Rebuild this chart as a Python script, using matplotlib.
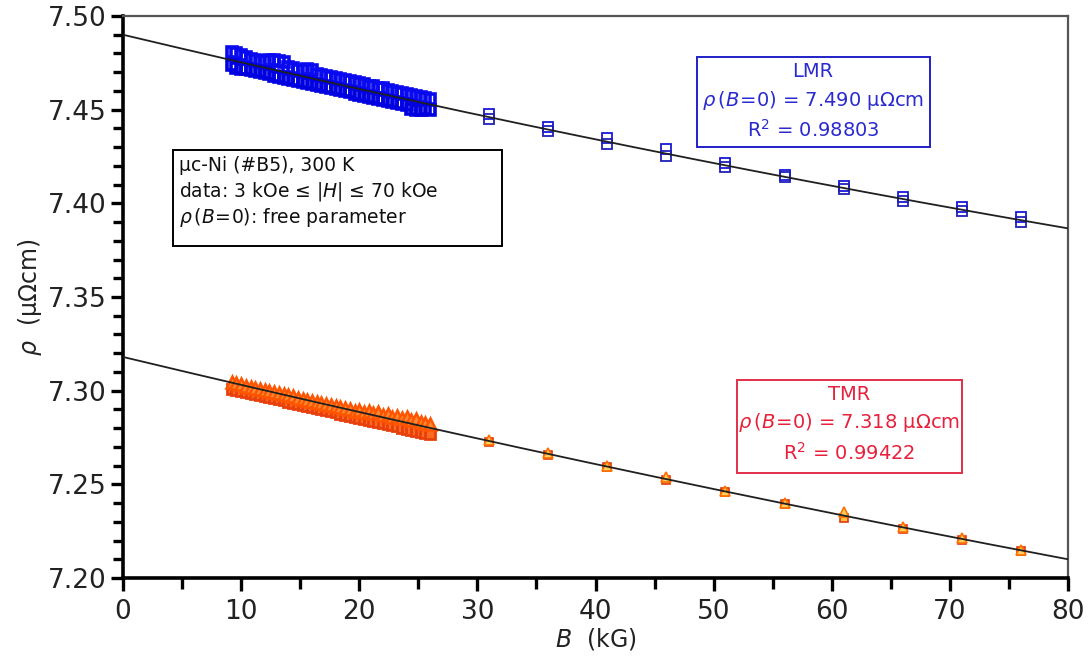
import numpy as np
import matplotlib
matplotlib.use("Agg")
import matplotlib.pyplot as plt
from matplotlib.patches import Rectangle
from matplotlib.ticker import MultipleLocator

plt.rcParams['font.family'] = ['DejaVu Sans']
plt.rcParams['mathtext.fontset'] = 'dejavusans'

# ---------------- data ----------------
B_low = [9.2, 9.6, 10.0, 10.4, 10.8, 11.2, 11.6, 12.0, 12.4, 12.8, 13.2, 13.6, 14.0,
         14.4, 14.8, 15.2, 15.6, 16.0, 16.4, 16.8, 17.2, 17.6, 18.0, 18.4, 18.8, 19.2,
         19.6, 20.0, 20.4, 20.8, 21.2, 21.6, 22.0, 22.4, 22.8, 23.2, 23.6, 24.0, 24.4,
         24.8, 25.2, 25.6, 26.0]

lmr_low_pos = [7.4808, 7.4800, 7.4790, 7.4780, 7.4773, 7.4767, 7.4762, 7.4758, 7.4765,
               7.4765, 7.4760, 7.4752, 7.4727, 7.4720, 7.4714, 7.4710, 7.4718, 7.4712,
               7.4692, 7.4686, 7.4680, 7.4674, 7.4669, 7.4663, 7.4657, 7.4652, 7.4646,
               7.4640, 7.4635, 7.4629, 7.4624, 7.4618, 7.4613, 7.4607, 7.4602, 7.4596,
               7.4591, 7.4585, 7.4580, 7.4574, 7.4569, 7.4563, 7.4558]
lmr_low_neg = [7.4738, 7.4720, 7.4715, 7.4717, 7.4711, 7.4705, 7.4700, 7.4694, 7.4688,
               7.4682, 7.4677, 7.4671, 7.4665, 7.4659, 7.4654, 7.4648, 7.4642, 7.4637,
               7.4631, 7.4625, 7.4620, 7.4614, 7.4608, 7.4603, 7.4597, 7.4592, 7.4586,
               7.4580, 7.4575, 7.4569, 7.4564, 7.4558, 7.4553, 7.4547, 7.4542, 7.4536,
               7.4531, 7.4525, 7.4505, 7.4496, 7.4500, 7.4503, 7.4498]

tmr_low_pos = [7.3045, 7.3040, 7.3033, 7.3027, 7.3022, 7.3016, 7.3010, 7.3004, 7.2998,
               7.2993, 7.2987, 7.2981, 7.2975, 7.2969, 7.2963, 7.2957, 7.2951, 7.2946,
               7.2940, 7.2934, 7.2928, 7.2922, 7.2917, 7.2911, 7.2905, 7.2900, 7.2894,
               7.2898, 7.2888, 7.2892, 7.2880, 7.2884, 7.2872, 7.2876, 7.2862, 7.2866,
               7.2854, 7.2858, 7.2845, 7.2848, 7.2834, 7.2830, 7.2824]
tmr_low_neg = [7.3010, 7.3005, 7.3000, 7.2994, 7.2988, 7.2982, 7.2977, 7.2971, 7.2965,
               7.2959, 7.2953, 7.2948, 7.2942, 7.2936, 7.2930, 7.2924, 7.2918, 7.2913,
               7.2907, 7.2901, 7.2895, 7.2889, 7.2884, 7.2878, 7.2872, 7.2866, 7.2860,
               7.2855, 7.2849, 7.2843, 7.2838, 7.2832, 7.2826, 7.2820, 7.2815, 7.2809,
               7.2803, 7.2797, 7.2792, 7.2786, 7.2780, 7.2775, 7.2769]

B_high = [31, 36, 41, 46, 51, 56, 61, 66, 71, 76]
lmr_high_pos = [7.4475, 7.4410, 7.4350, 7.4290, 7.4215, 7.4150, 7.4095, 7.4035, 7.3978, 7.3925]
lmr_high_neg = [7.4450, 7.4385, 7.4315, 7.4255, 7.4195, 7.4138, 7.4075, 7.4015, 7.3960, 7.3900]
tmr_high_pos = [7.2738, 7.2668, 7.2598, 7.2540, 7.2465, 7.2402, 7.2352, 7.2272, 7.2212, 7.2150]
tmr_high_neg = [7.2728, 7.2656, 7.2590, 7.2522, 7.2458, 7.2394, 7.2318, 7.2264, 7.2203, 7.2143]

# fit curves: rho(B) = rho0 - a*B + b*B^2
lmr_rho0, lmr_a, lmr_b = 7.490, 0.00150, 2.6e-6
tmr_rho0, tmr_a, tmr_b = 7.318, 0.00151, 2.0e-6

x_ticks = [0, 10, 20, 30, 40, 50, 60, 70, 80]
y_ticks = [7.20, 7.25, 7.30, 7.35, 7.40, 7.45, 7.50]

# ---------------- figure ----------------
W, H = 1090, 664
fig = plt.figure(figsize=(W / 100, H / 100), dpi=100)
AX_L, AX_R, AX_T, AX_B = 123, 1068, 16, 578
ax = fig.add_axes([AX_L / W, 1 - AX_B / H, (AX_R - AX_L) / W, (AX_B - AX_T) / H])
ax.set_xlim(0, 80)
ax.set_ylim(7.20, 7.50)

blue = '#0a0af0'
sq = dict(marker='s', ms=7.5, mfc='none', mew=2.6, ls='none')
ax.plot(B_low, lmr_low_pos, mec=blue, **sq, zorder=3)
ax.plot(B_low, lmr_low_neg, mec='#0000e0', **sq, zorder=3)
sqh = dict(marker='s', ms=6.5, mfc='none', mew=1.3, ls='none')
ax.plot(B_high, lmr_high_pos, mec='#1818d8', **sqh, zorder=3)
ax.plot(B_high, lmr_high_neg, mec='#2020b8', **sqh, zorder=3)

ax.plot(B_low, tmr_low_neg, marker='s', ms=7, mew=2.0, ls='none',
        mfc='#ff6a20', mec='#e8400c', zorder=3)
ax.plot(B_low, tmr_low_pos, marker='^', ms=8.5, mew=1.8, ls='none',
        mfc='#ff8a30', mec='#ff5500', zorder=3)
ax.plot(B_high, tmr_high_neg, marker='s', ms=5.5, mew=1.2, ls='none',
        mfc='#ffc040', mec='#e03a10', zorder=3)
ax.plot(B_high, tmr_high_pos, marker='^', ms=7.5, mew=1.2, ls='none',
        mfc='#ffd060', mec='#ff7000', zorder=3)

bfit = np.linspace(0, 80, 200)
ax.plot(bfit, lmr_rho0 - lmr_a * bfit + lmr_b * bfit**2, color='#202020', lw=1.3, zorder=4)
ax.plot(bfit, tmr_rho0 - tmr_a * bfit + tmr_b * bfit**2, color='#202020', lw=1.3, zorder=4)

# axes styling
for s in ['left', 'bottom']:
    ax.spines[s].set_linewidth(2.6)
    ax.spines[s].set_color('black')
for s in ['top', 'right']:
    ax.spines[s].set_linewidth(1.6)
    ax.spines[s].set_color('#555555')
ax.set_xticks(x_ticks)
ax.set_xticklabels([str(v) for v in x_ticks])
ax.set_yticks(y_ticks)
ax.set_yticklabels(['%.2f' % v for v in y_ticks])
ax.xaxis.set_minor_locator(MultipleLocator(5))
ax.yaxis.set_minor_locator(MultipleLocator(0.01))
ax.tick_params(axis='both', which='both', direction='out', top=False, right=False,
               width=2.4, color='black', labelcolor='#222222')
ax.tick_params(axis='y', which='major', length=9, labelsize=19, pad=3)
ax.tick_params(axis='y', which='minor', length=7)
ax.tick_params(axis='x', which='major', length=9, labelsize=19, pad=6)
ax.tick_params(axis='x', which='minor', length=8)

ax.set_xlabel('$B$  (kG)', fontsize=17, color='#222222')
ax.xaxis.set_label_coords(0.5, (AX_B - 626) / (AX_B - AX_T))
ax.set_ylabel(r'$\rho$  ($\mathrm{\mu\Omega cm}$)', fontsize=17, color='#222222')
ax.yaxis.set_label_coords((44 - AX_L) / (AX_R - AX_L), 0.5)

# helper: pixel -> data
def px(xp, yp):
    return (xp - AX_L) / (AX_R - AX_L) * 80, 7.50 - (yp - AX_T) / (AX_B - AX_T) * 0.30

def box(x0, y0, x1, y1, color, lw):
    (dx0, dy0), (dx1, dy1) = px(x0, y1), px(x1, y0)
    ax.add_patch(Rectangle((dx0, dy0), dx1 - dx0, dy1 - dy0, fill=False,
                           ec=color, lw=lw, zorder=5))

# info box
box(173, 150, 502, 246, 'black', 1.4)
info = ['μc-Ni (#B5), 300 K',
        r'data: 3 kOe ≤ |$H$| ≤ 70 kOe',
        r'$\rho\,(B\!=\!0)$: free parameter']
for i, t in enumerate(info):
    x, y = px(179, 166 + 26 * i)
    ax.text(x, y, t, fontsize=13.5, ha='left', va='center', color='#111111', zorder=6)

# LMR box
lmr_col = '#2a2ad0'
box(697, 57, 930, 147, '#2020c8', 1.4)
lmr_lines = ['LMR', r'$\rho\,(B\!=\!0)$ = 7.490 μΩcm', r'R$^2$ = 0.98803']
for t, yp in zip(lmr_lines, [72, 100, 130]):
    x, y = px(813, yp)
    ax.text(x, y, t, fontsize=14, ha='center', va='center', color=lmr_col, zorder=6)

# TMR box
tmr_col = '#e8203c'
box(737, 380, 962, 473, '#e03048', 1.4)
tmr_lines = ['TMR', r'$\rho\,(B\!=\!0)$ = 7.318 μΩcm', r'R$^2$ = 0.99422']
for t, yp in zip(tmr_lines, [395, 422, 453]):
    x, y = px(849, yp)
    ax.text(x, y, t, fontsize=14, ha='center', va='center', color=tmr_col, zorder=6)

fig.savefig('out.png', dpi=100)
